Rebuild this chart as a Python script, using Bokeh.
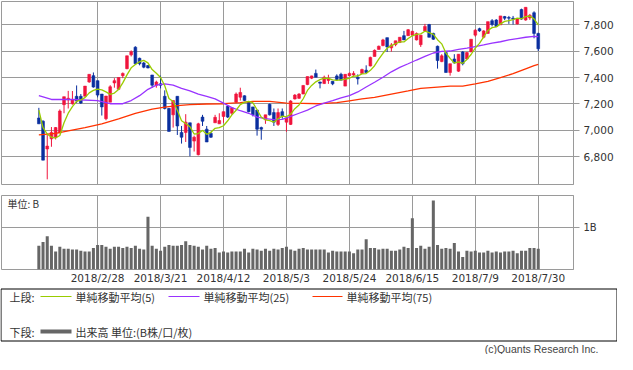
import numpy as np
from bokeh.plotting import figure
from bokeh.layouts import column
from bokeh.models import Range1d, FixedTicker, NumeralTickFormatter, Label
from bokeh.core.properties import value
from bokeh.embed import file_html
from bokeh.resources import INLINE

# ---------------- data ----------------
opens = [7094, 7070, 6860, 6937, 6949, 6981, 7195, 7231, 7202, 7258,
         7258, 7258, 7366, 7414, 7376, 7275, 7089, 7214, 7359, 7311,
         7414, 7467, 7571, 7629, 7545, 7510, 7490, 7419, 7342, 7352,
         7258, 7166, 7118, 7258, 6985, 6985, 7058, 6920, 6817, 7101,
         7010, 6978, 7058, 7050, 7106, 7183, 7130, 7214, 7251, 7262,
         7214, 7178, 7154, 7022, 7082, 7198, 7135, 7046, 7142, 7063,
         7046, 7238, 7243, 7275, 7347, 7395, 7431, 7366, 7354, 7378,
         7371, 7412, 7424, 7335, 7414, 7419, 7402, 7431, 7455, 7487,
         7559, 7612, 7641, 7701, 7624, 7648, 7665, 7716, 7716, 7720,
         7684, 7648, 7752, 7800, 7733, 7636, 7520, 7588, 7438, 7540,
         7448, 7593, 7540, 7593, 7720, 7769, 7704, 7733, 7829, 7834,
         7798, 7860, 7853, 7848, 7805, 7913, 7834, 7850, 7889, 7733]
highs = [7171, 7077, 6970, 7026, 7026, 7159, 7255, 7299, 7298, 7340,
         7275, 7335, 7424, 7438, 7376, 7275, 7260, 7342, 7395, 7400,
         7438, 7564, 7605, 7636, 7550, 7518, 7495, 7419, 7376, 7414,
         7303, 7170, 7226, 7258, 7034, 7123, 7058, 6961, 7058, 7118,
         7034, 6990, 7118, 7130, 7142, 7190, 7171, 7287, 7323, 7265,
         7214, 7178, 7154, 7029, 7118, 7203, 7166, 7166, 7166, 7106,
         7229, 7275, 7282, 7342, 7407, 7414, 7460, 7368, 7414, 7421,
         7371, 7424, 7436, 7424, 7438, 7448, 7424, 7467, 7492, 7557,
         7612, 7641, 7692, 7701, 7660, 7677, 7704, 7752, 7766, 7752,
         7740, 7720, 7805, 7805, 7738, 7641, 7576, 7600, 7504, 7576,
         7576, 7600, 7593, 7689, 7766, 7776, 7757, 7822, 7841, 7841,
         7865, 7865, 7865, 7865, 7846, 7920, 7930, 7880, 7900, 7738]
lows = [7050, 6776, 6631, 6877, 6932, 6981, 7130, 7166, 7195, 7207,
        7200, 7258, 7360, 7323, 7250, 7113, 7077, 7214, 7323, 7306,
        7395, 7462, 7559, 7504, 7492, 7470, 7470, 7323, 7323, 7318,
        7159, 6993, 7022, 6966, 6901, 6913, 6805, 6841, 6812, 7034,
        6913, 6944, 7058, 7050, 7058, 7094, 7118, 7207, 7226, 7222,
        7137, 7106, 6961, 6930, 7050, 7113, 7034, 7034, 7089, 6990,
        7041, 7234, 7238, 7275, 7342, 7388, 7424, 7318, 7352, 7352,
        7342, 7378, 7380, 7335, 7410, 7407, 7347, 7426, 7431, 7484,
        7559, 7612, 7636, 7593, 7595, 7636, 7660, 7684, 7716, 7716,
        7680, 7631, 7745, 7704, 7684, 7467, 7516, 7438, 7414, 7504,
        7443, 7492, 7535, 7593, 7708, 7745, 7696, 7733, 7786, 7781,
        7798, 7834, 7805, 7800, 7800, 7836, 7829, 7835, 7696, 7600]
closes = [7050, 6776, 6882, 6985, 7022, 7147, 7255, 7243, 7231, 7222,
          7207, 7335, 7424, 7328, 7267, 7178, 7260, 7330, 7376, 7400,
          7431, 7564, 7595, 7504, 7504, 7478, 7472, 7342, 7366, 7342,
          7166, 6993, 7226, 7034, 6949, 7063, 6872, 6949, 7050, 7070,
          6913, 6949, 7099, 7075, 7142, 7101, 7171, 7275, 7287, 7226,
          7142, 7118, 7010, 7010, 7118, 7118, 7063, 7135, 7106, 7094,
          7222, 7267, 7275, 7340, 7407, 7412, 7402, 7357, 7402, 7395,
          7352, 7385, 7380, 7424, 7431, 7431, 7390, 7460, 7438, 7552,
          7605, 7636, 7684, 7631, 7646, 7677, 7704, 7684, 7761, 7749,
          7733, 7720, 7786, 7704, 7689, 7528, 7564, 7438, 7504, 7511,
          7576, 7504, 7588, 7689, 7757, 7752, 7752, 7822, 7800, 7786,
          7865, 7848, 7848, 7841, 7841, 7841, 7930, 7870, 7733, 7617]
volumes = [0.57, 0.66, 0.80, 0.57, 0.43, 0.55, 0.50, 0.50, 0.48, 0.48,
           0.45, 0.43, 0.43, 0.52, 0.59, 0.59, 0.55, 0.50, 0.55, 0.55,
           0.52, 0.55, 0.52, 0.57, 0.50, 0.48, 1.27, 0.57, 0.50, 0.45,
           0.55, 0.59, 0.57, 0.57, 0.59, 0.68, 0.59, 0.57, 0.55, 0.48,
           0.57, 0.50, 0.52, 0.41, 0.43, 0.41, 0.43, 0.43, 0.43, 0.50,
           0.41, 0.50, 0.48, 0.45, 0.50, 0.45, 0.50, 0.48, 0.52, 0.55,
           0.48, 0.45, 0.50, 0.52, 0.48, 0.48, 0.48, 0.48, 0.48, 0.41,
           0.45, 0.43, 0.43, 0.43, 0.43, 0.39, 0.48, 0.48, 0.73, 0.52,
           0.52, 0.48, 0.50, 0.50, 0.45, 0.45, 0.48, 0.55, 0.52, 1.23,
           0.52, 0.57, 0.50, 0.55, 1.66, 0.59, 0.50, 0.52, 0.50, 0.64,
           0.43, 0.30, 0.45, 0.43, 0.45, 0.41, 0.41, 0.45, 0.41, 0.43,
           0.41, 0.43, 0.43, 0.45, 0.39, 0.45, 0.45, 0.52, 0.52, 0.50]

# closes of the 4 sessions before the window (needed for the 5-day average)
prior_closes = [7436, 7127, 7105, 7052]

# 25-day and 75-day moving averages
ma25_idx = [0, 3, 8, 14, 17, 20, 22, 24, 26, 28, 30, 32, 34, 36, 38, 40, 42, 44,
            46, 48, 50, 52, 54, 56, 58, 60, 62, 64, 66, 68, 70, 72, 74, 76, 78,
            80, 82, 84, 86, 88, 90, 92, 94, 96, 98, 100, 102, 104, 106, 108,
            110, 112, 114, 116, 118, 119]
ma25_val = [7263, 7234, 7234, 7226, 7202, 7202, 7226, 7263, 7311, 7342, 7352,
            7342, 7318, 7299, 7275, 7258, 7238, 7207, 7173, 7149, 7130, 7101,
            7089, 7082, 7084, 7106, 7130, 7154, 7185, 7207, 7226, 7246, 7263,
            7291, 7328, 7364, 7402, 7443, 7477, 7504, 7532, 7559, 7585, 7598,
            7600, 7612, 7622, 7634, 7646, 7660, 7670, 7684, 7694, 7704, 7711,
            7708]
ma75_idx = [0, 4, 7, 11, 15, 19, 23, 27, 30, 33, 36, 40, 44, 48, 51, 55, 59, 63,
            67, 71, 74, 77, 80, 84, 88, 91, 95, 98, 101, 104, 107, 110, 113, 116,
            118, 119]
ma75_val = [6966, 6978, 6997, 7022, 7050, 7087, 7130, 7161, 7176, 7188, 7195,
            7200, 7202, 7210, 7219, 7219, 7207, 7205, 7202, 7210, 7224, 7238,
            7250, 7275, 7299, 7318, 7328, 7335, 7335, 7352, 7371, 7400, 7429,
            7465, 7489, 7499]

price_ticks = [6800, 7000, 7200, 7400, 7600, 7800]
date_tick_pos = [14, 29, 44, 59, 74, 89, 104, 119]
date_tick_labels = ["2018/2/28", "2018/3/21", "2018/4/12", "2018/5/3",
                    "2018/5/24", "2018/6/15", "2018/7/9", "2018/7/30"]
legend_ma_labels = ["単純移動平均(5)", "単純移動平均(25)", "単純移動平均(75)"]
legend_vol_label = "出来高 単位:(B株/口/枚)"

# ---------------- styling ----------------
UP_C, DN_C = "#F0143C", "#0A2F9F"
MA5_C, MA25_C, MA75_C = "#99CC00", "#9933FF", "#FF3300"
VOL_C = "#666666"
GRID = "#9a9a9a"
TXT = "#333333"
NUM_FONT = "DejaVu Sans"
JP_FONT = "Noto Sans CJK JP"

W = 617
n = len(closes)
idx = list(range(n))
colors = [UP_C if c >= o else DN_C for o, c in zip(opens, closes)]
body_top = [max(o, c) for o, c in zip(opens, closes)]
body_bot = [min(o, c) for o, c in zip(opens, closes)]
full = prior_closes + closes
ma5 = [sum(full[i:i + 5]) / 5.0 for i in range(n)]

x_range = Range1d(-8.9, 127.4)


def base_style(p):
    p.background_fill_color = "white"
    p.border_fill_color = "white"
    p.outline_line_color = GRID
    p.outline_line_width = 1


# ---------------- price panel ----------------
price = figure(width=W, height=185, x_range=x_range, y_range=Range1d(6592, 7974),
               y_axis_location="right", output_backend="svg", toolbar_location=None,
               min_border_left=1, min_border_right=44, min_border_top=1,
               min_border_bottom=1)
base_style(price)
price.xaxis.visible = False
price.xgrid.ticker = FixedTicker(ticks=date_tick_pos)
price.ygrid.ticker = FixedTicker(ticks=price_ticks)
for g in (price.xgrid[0], price.ygrid[0]):
    g.grid_line_color = GRID
    g.grid_line_width = 1
ya = price.yaxis[0]
ya.ticker = FixedTicker(ticks=price_ticks)
ya.formatter = NumeralTickFormatter(format="0,0")
ya.major_tick_out = 6
ya.major_tick_in = 0
ya.minor_tick_line_color = None
ya.axis_line_color = GRID
ya.major_tick_line_color = GRID
ya.major_label_text_font = NUM_FONT
ya.major_label_text_font_size = "10.5px"
ya.major_label_text_color = TXT
ya.major_label_standoff = 4

price.segment(x0=idx, y0=lows, x1=idx, y1=highs, line_color=colors, line_width=1)
price.vbar(x=idx, width=0.66, top=body_top, bottom=body_bot,
           fill_color=colors, line_color=colors, line_width=0.6)
price.line(ma75_idx, ma75_val, line_color=MA75_C, line_width=1.3)
price.line(ma25_idx, ma25_val, line_color=MA25_C, line_width=1.3)
price.line(idx, ma5, line_color=MA5_C, line_width=1.3)

# ---------------- volume panel ----------------
vol = figure(width=W, height=101, x_range=x_range, y_range=Range1d(0, 1.78),
             y_axis_location="right", output_backend="svg", toolbar_location=None,
             min_border_left=1, min_border_right=44, min_border_top=10,
             min_border_bottom=14)
base_style(vol)
vol.xgrid.ticker = FixedTicker(ticks=date_tick_pos)
vol.ygrid.ticker = FixedTicker(ticks=[1])
for g in (vol.xgrid[0], vol.ygrid[0]):
    g.grid_line_color = GRID
    g.grid_line_width = 1
vy = vol.yaxis[0]
vy.ticker = FixedTicker(ticks=[1])
vy.major_label_overrides = {1: "1B"}
vy.major_tick_out = 6
vy.major_tick_in = 0
vy.minor_tick_line_color = None
vy.axis_line_color = GRID
vy.major_tick_line_color = GRID
vy.major_label_text_font = NUM_FONT
vy.major_label_text_font_size = "10px"
vy.major_label_text_color = TXT
vy.major_label_standoff = 4
vx = vol.xaxis[0]
vx.ticker = FixedTicker(ticks=date_tick_pos)
vx.major_label_overrides = {p: l for p, l in zip(date_tick_pos, date_tick_labels)}
vx.major_tick_out = 0
vx.major_tick_in = 0
vx.minor_tick_line_color = None
vx.axis_line_color = None
vx.major_label_text_font = NUM_FONT
vx.major_label_text_font_size = "10.5px"
vx.major_label_text_color = TXT
vx.major_label_standoff = 2

vol.vbar(x=idx, top=volumes, width=0.72, fill_color=VOL_C, line_color=None)
vol.add_layout(Label(x=-8.9 + 1.4, y=1.78 - 8 * 1.78 / 77, text="単位: B",
                     text_font=JP_FONT, text_font_size="10px",
                     text_baseline="middle", text_color=TXT))

# ---------------- legend panel ----------------
LH = 68
leg = figure(width=W, height=LH, x_range=Range1d(0, W), y_range=Range1d(LH, 0),
             output_backend="svg", toolbar_location=None, min_border=0,
             x_axis_location=None, y_axis_location=None)
leg.grid.visible = False
leg.outline_line_color = None
leg.background_fill_color = "white"
leg.border_fill_color = "white"

row1, row2 = 10, 45
leg.quad(left=[0.5], right=[W - 0.5], top=[2.5], bottom=[54.5],
         fill_color=None, line_color="black", line_width=1)
leg.segment(x0=[40, 168, 312], y0=[row1] * 3, x1=[71, 199, 342], y1=[row1] * 3,
            line_color=[MA5_C, MA25_C, MA75_C], line_width=1.2)
leg.segment(x0=[40], y0=[row2], x1=[71], y1=[row2], line_color=VOL_C, line_width=4)
leg.text(x=[9, 75, 203, 346, 9, 75], y=[row1] * 4 + [row2] * 2,
         text=["上段:"] + legend_ma_labels + ["下段:", legend_vol_label],
         text_font=value(JP_FONT), text_font_size=value("11px"),
         text_baseline="middle", text_align="left", text_color=TXT)
leg.text(x=[W - 19], y=[62], text=["(c)Quants Research Inc."],
         text_font=value("Liberation Sans"), text_font_size=value("10.5px"),
         text_baseline="middle", text_align="right", text_color="#444444")

charts = column(price, vol, spacing=0)
layout = column(charts, leg, spacing=0)
open("out.html", "w").write(file_html(layout, INLINE))
